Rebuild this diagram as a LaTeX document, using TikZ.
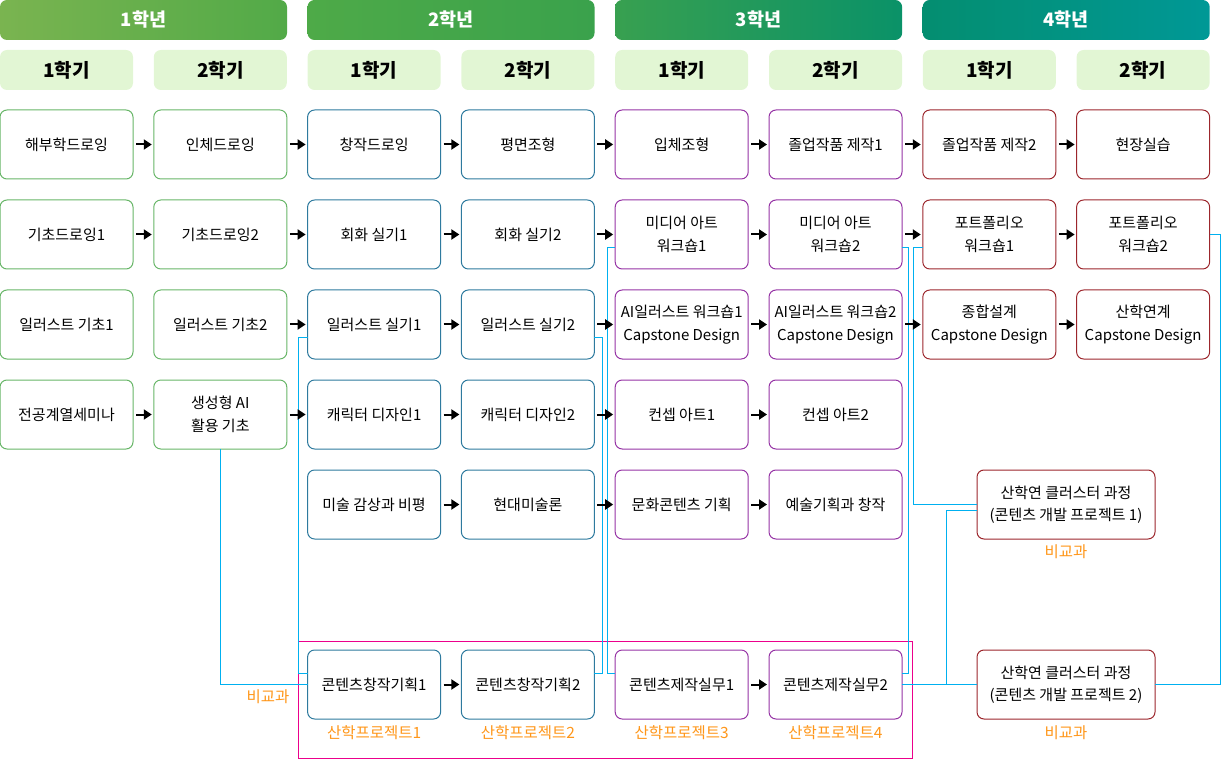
\documentclass[tikz,border=0pt]{standalone}
\usepackage{fontspec}
\setmainfont{Noto Sans CJK KR}
\usepackage{tikz}
\usetikzlibrary{arrows.meta}

\definecolor{grgreen}{RGB}{104,182,104}
\definecolor{grblue}{RGB}{46,122,158}
\definecolor{grpurple}{RGB}{150,52,165}
\definecolor{grred}{RGB}{156,38,44}
\definecolor{semfill}{RGB}{226,246,212}
\definecolor{linkcyan}{RGB}{0,176,240}
\definecolor{noteorange}{RGB}{255,150,25}

\tikzset{
    year/.style={rounded corners=7pt, minimum width=287pt, minimum height=40pt, inner sep=0pt, text=white, font=\fontsize{18.5}{20}\selectfont\bfseries},
    sem/.style={fill=semfill, rounded corners=7pt, minimum width=133pt, minimum height=40pt, inner sep=0pt, font=\fontsize{19}{20}\selectfont\bfseries},
    course/.style={draw=#1, line width=1pt, fill=white, rounded corners=7pt, minimum width=133pt, minimum height=69pt, inner sep=0pt, outer sep=0pt, align=center, font=\fontsize{15}{22.5}\selectfont},
    cluster/.style={course=grred, minimum width=178pt},
    note/.style={text=noteorange, inner sep=0pt, font=\fontsize{15.5}{18}\selectfont},
    arr/.style={line width=2pt, -{Triangle[length=8pt,width=10pt]}, shorten <=3pt, shorten >=2pt},
    link/.style={draw=linkcyan, line width=1pt},
}

\begin{document}
\begin{tikzpicture}[x=1pt, y=-1pt]
    \useasboundingbox (0, 0) rectangle (1221, 759);

    % years
    \node[year, left color={rgb,255:red,122;green,180;blue,80}, right color={rgb,255:red,82;green,170;blue,72}] at (143.5, 20) (Y1) {1학년};
    \node[year, left color={rgb,255:red,78;green,170;blue,72}, right color={rgb,255:red,58;green,162;blue,76}] at (451, 20) (Y2) {2학년};
    \node[year, left color={rgb,255:red,56;green,160;blue,80}, right color={rgb,255:red,10;green,146;blue,104}] at (758.6, 20) (Y3) {3학년};
    \node[year, left color={rgb,255:red,4;green,142;blue,112}, right color={rgb,255:red,0;green,152;blue,150}] at (1066.2, 20) (Y4) {4학년};

    % semesters
    \node[sem] at (66.5, 70) (S1) {1학기};
    \node[sem] at (220.3, 70) (S2) {2학기};
    \node[sem] at (374.1, 70) (S3) {1학기};
    \node[sem] at (527.9, 70) (S4) {2학기};
    \node[sem] at (681.7, 70) (S5) {1학기};
    \node[sem] at (835.5, 70) (S6) {2학기};
    \node[sem] at (989.3, 70) (S7) {1학기};
    \node[sem] at (1143.1, 70) (S8) {2학기};

    % courses
    \node[course=grgreen] at (66.5, 144.5) (L1N1) {해부학드로잉};
    \node[course=grgreen] at (220.3, 144.5) (L1N2) {인체드로잉};
    \node[course=grblue] at (374.1, 144.5) (L1N3) {창작드로잉};
    \node[course=grblue] at (527.9, 144.5) (L1N4) {평면조형};
    \node[course=grpurple] at (681.7, 144.5) (L1N5) {입체조형};
    \node[course=grpurple] at (835.5, 144.5) (L1N6) {졸업작품 제작1};
    \node[course=grred] at (989.3, 144.5) (L1N7) {졸업작품 제작2};
    \node[course=grred] at (1143.1, 144.5) (L1N8) {현장실습};

    \node[course=grgreen] at (66.5, 234.5) (L2N1) {기초드로잉1};
    \node[course=grgreen] at (220.3, 234.5) (L2N2) {기초드로잉2};
    \node[course=grblue] at (374.1, 234.5) (L2N3) {회화 실기1};
    \node[course=grblue] at (527.9, 234.5) (L2N4) {회화 실기2};
    \node[course=grpurple] at (681.7, 234.5) (L2N5) {미디어 아트\\워크숍1};
    \node[course=grpurple] at (835.5, 234.5) (L2N6) {미디어 아트\\워크숍2};
    \node[course=grred] at (989.3, 234.5) (L2N7) {포트폴리오\\워크숍1};
    \node[course=grred] at (1143.1, 234.5) (L2N8) {포트폴리오\\워크숍2};

    \node[course=grgreen] at (66.5, 324.5) (L3N1) {일러스트 기초1};
    \node[course=grgreen] at (220.3, 324.5) (L3N2) {일러스트 기초2};
    \node[course=grblue] at (374.1, 324.5) (L3N3) {일러스트 실기1};
    \node[course=grblue] at (527.9, 324.5) (L3N4) {일러스트 실기2};
    \node[course=grpurple] at (681.7, 324.5) (L3N5) {AI일러스트 워크숍1\\Capstone Design};
    \node[course=grpurple] at (835.5, 324.5) (L3N6) {AI일러스트 워크숍2\\Capstone Design};
    \node[course=grred] at (989.3, 324.5) (L3N7) {종합설계\\Capstone Design};
    \node[course=grred] at (1143.1, 324.5) (L3N8) {산학연계\\Capstone Design};

    \node[course=grgreen] at (66.5, 414.5) (L4N1) {전공계열세미나};
    \node[course=grgreen] at (220.3, 414.5) (L4N2) {생성형 AI\\활용 기초};
    \node[course=grblue] at (374.1, 414.5) (L4N3) {캐릭터 디자인1};
    \node[course=grblue] at (527.9, 414.5) (L4N4) {캐릭터 디자인2};
    \node[course=grpurple] at (681.7, 414.5) (L4N5) {컨셉 아트1};
    \node[course=grpurple] at (835.5, 414.5) (L4N6) {컨셉 아트2};

    \node[course=grblue] at (374.1, 504.5) (L5N3) {미술 감상과 비평};
    \node[course=grblue] at (527.9, 504.5) (L5N4) {현대미술론};
    \node[course=grpurple] at (681.7, 504.5) (L5N5) {문화콘텐츠 기획};
    \node[course=grpurple] at (835.5, 504.5) (L5N6) {예술기획과 창작};

    \node[course=grblue] at (374.1, 684.5) (L6N3) {콘텐츠창작기획1};
    \node[course=grblue] at (527.9, 684.5) (L6N4) {콘텐츠창작기획2};
    \node[course=grpurple] at (681.7, 684.5) (L6N5) {콘텐츠제작실무1};
    \node[course=grpurple] at (835.5, 684.5) (L6N6) {콘텐츠제작실무2};

    \node[cluster] at (1066, 504.5) (C1) {산학연 클러스터 과정\\(콘텐츠 개발 프로젝트 1)};
    \node[cluster] at (1066, 684.5) (C2) {산학연 클러스터 과정\\(콘텐츠 개발 프로젝트 2)};

    % labels
    \node[note] at (374.1, 733) (P1) {산학프로젝트1};
    \node[note] at (527.9, 733) (P2) {산학프로젝트2};
    \node[note] at (681.7, 733) (P3) {산학프로젝트3};
    \node[note] at (835.5, 733) (P4) {산학프로젝트4};
    \node[note] at (268, 697) (E0) {비교과};
    \node[note] at (1066, 552) (E1) {비교과};
    \node[note] at (1066, 733) (E2) {비교과};

    \draw[draw=magenta, line width=1pt] (298.5, 641) rectangle (912, 758);

    % links
    \draw[link] (L4N2.south) |- (L6N3.west);
    \draw[link] ([yshift=-13.5pt]L3N3.west) -- ++(-9, 0) |- ([yshift=11.5pt]L6N3.west);
    \draw[link] ([yshift=-13.5pt]L3N4.east) -- ++(8, 0) |- ([yshift=11.5pt]L6N4.east);
    \draw[link] ([yshift=-13.5pt]L2N5.west) -- ++(-8, 0) |- ([yshift=11.5pt]L6N5.west);
    \draw[link] ([yshift=-13.5pt]L2N6.east) -- ++(6, 0) |- ([yshift=11.5pt]L6N6.east);
    \draw[link] ([yshift=-13.5pt]L2N7.west) -- ++(-9, 0) |- (C1.west);
    \draw[link] (L6N6.east) -- (C2.west);
    \draw[link] ([yshift=-6pt]C1.west) -| ([xshift=-31pt]C2.west);
    \draw[link] (L2N8.east) -- ++(10.5, 0) |- (C2.east);

    % arrows
    \draw[arr] (L1N1) -- (L1N2);
    \draw[arr] (L1N2) -- (L1N3);
    \draw[arr] (L1N3) -- (L1N4);
    \draw[arr] (L1N4) -- (L1N5);
    \draw[arr] (L1N5) -- (L1N6);
    \draw[arr] (L1N6) -- (L1N7);
    \draw[arr] (L1N7) -- (L1N8);
    \draw[arr] (L2N1) -- (L2N2);
    \draw[arr] (L2N2) -- (L2N3);
    \draw[arr] (L2N3) -- (L2N4);
    \draw[arr] (L2N4) -- (L2N5);
    \draw[arr] (L2N5) -- (L2N6);
    \draw[arr] (L2N6) -- (L2N7);
    \draw[arr] (L2N7) -- (L2N8);
    \draw[arr] (L3N2) -- (L3N3);
    \draw[arr] (L3N3) -- (L3N4);
    \draw[arr] (L3N4) -- (L3N5);
    \draw[arr] (L3N5) -- (L3N6);
    \draw[arr] (L3N6) -- (L3N7);
    \draw[arr] (L3N7) -- (L3N8);
    \draw[arr] (L4N1) -- (L4N2);
    \draw[arr] (L4N2) -- (L4N3);
    \draw[arr] (L4N3) -- (L4N4);
    \draw[arr] (L4N4) -- (L4N5);
    \draw[arr] (L4N5) -- (L4N6);
    \draw[arr] (L5N3) -- (L5N4);
    \draw[arr] (L5N4) -- (L5N5);
    \draw[arr] (L5N5) -- (L5N6);
    \draw[arr] (L6N3) -- (L6N4);
    \draw[arr] (L6N5) -- (L6N6);
\end{tikzpicture}
\end{document}
